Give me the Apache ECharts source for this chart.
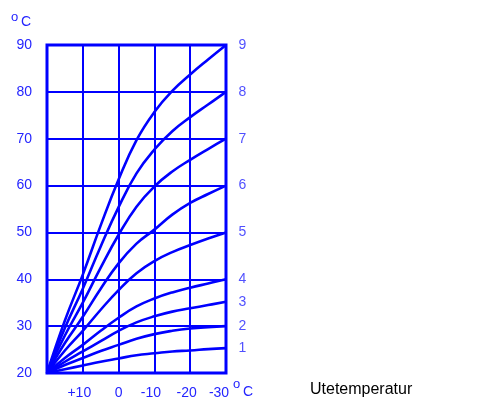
<!DOCTYPE html>
<html>
<head>
<meta charset="utf-8">
<script src="https://cdn.jsdelivr.net/npm/echarts@6/dist/echarts.min.js"></script>
<style>
html,body{margin:0;padding:0;background:#fff;}
#chart{width:480px;height:401px;}
</style>
</head>
<body>
<div id="chart"></div>
<script>
// Outdoor temperature (x) and supply temperature (y) for heating curves 1..9
const outdoorTemps = [20, 15, 10, 5, 0, -5, -10, -15, -20, -25, -30];
const curve1 = [20, 20.8, 21.6, 22.4, 23.1, 23.8, 24.2, 24.6, 24.8, 25.1, 25.3];
const curve2 = [20, 21.7, 23.2, 24.7, 26.0, 27.3, 28.3, 29.0, 29.5, 29.8, 30];
const curve3 = [20, 22.4, 24.6, 26.8, 29.0, 30.8, 32.1, 33.1, 33.8, 34.5, 35.2];
const curve4 = [20, 23.2, 26.0, 29.0, 31.8, 34.2, 35.9, 37.2, 38.2, 39.1, 40];
const curve5 = [20, 24.8, 29.0, 33.5, 37.7, 41.3, 43.9, 45.8, 47.3, 48.7, 50];
const curve6 = [20, 26.4, 32.0, 38.0, 43.4, 47.6, 50.6, 53.8, 56.3, 58.2, 60];
const curve7 = [20, 28.0, 35.0, 42.5, 49.5, 55.5, 59.8, 63.0, 65.5, 67.8, 70];
const curve8 = [20, 29.6, 38.0, 47.0, 55.4, 62.6, 67.7, 71.6, 74.6, 77.3, 80];
const curve9 = [20, 31.2, 41.0, 51.5, 61.3, 69.7, 75.7, 80.2, 83.7, 86.9, 90];
const curves = [curve1, curve2, curve3, curve4, curve5, curve6, curve7, curve8, curve9];
const curveNames = ['1', '2', '3', '4', '5', '6', '7', '8', '9'];
const yTicks = [20, 30, 40, 50, 60, 70, 80, 90];
const xTickLabels = {'10': '+10', '0': '0', '-10': '-10', '-20': '-20', '-30': '-30'};
const unitLabel = 'C';
const xTitle = 'Utetemperatur';

const BLUE = '#0000ff';
const TXT = '#2424ff';
const FONT = 'Liberation Sans, Arial, sans-serif';

const chart = echarts.init(document.getElementById('chart'), null, {renderer: 'canvas'});

const lastIdx = outdoorTemps.length - 1;

const series = curves.map((c, i) => ({
  type: 'line',
  name: curveNames[i],
  data: outdoorTemps.map((t, j) => [t, c[j]]),
  smooth: 0.45,
  showSymbol: false,
  symbol: 'none',
  lineStyle: {color: BLUE, width: 2.6},
  animation: false,
  z: 3
}));

// curve number labels at the right end of each curve
series.push({
  type: 'scatter',
  name: 'labels',
  clip: false,
  symbolSize: 1,
  itemStyle: {color: 'rgba(0,0,0,0)'},
  data: curves.map((c, i) => [outdoorTemps[lastIdx], c[lastIdx], curveNames[i]]),
  label: {
    show: true,
    position: 'right',
    distance: 12,
    formatter: p => p.data[2],
    color: TXT,
    fontSize: 14,
    fontFamily: FONT
  },
  silent: true,
  animation: false,
  z: 5
});

chart.setOption({
  animation: false,
  backgroundColor: '#fff',
  grid: {left: 47, top: 45, right: 254, bottom: 28, show: true, borderColor: BLUE, borderWidth: 3, z: 4},
  xAxis: {
    type: 'value',
    min: -30, max: 20, interval: 10,
    inverse: true,
    axisLine: {show: false},
    axisTick: {show: false},
    splitLine: {show: true, lineStyle: {color: BLUE, width: 2}},
    axisLabel: {
      color: TXT,
      fontSize: 14,
      fontFamily: FONT,
      margin: 13,
      showMaxLabel: false,
      formatter: v => {
        const s = xTickLabels[String(v)];
        if (!s) return '';
        if (v === 0) return '{z|' + s + '}';
        if (v === -30) return '{b|' + s + '}';
        return '{a|' + s + '}';
      },
      rich: {
        z: {color: TXT, fontSize: 14, fontFamily: FONT},
        a: {color: TXT, fontSize: 14, fontFamily: FONT, padding: [0, 7, 0, 0]},
        b: {color: TXT, fontSize: 14, fontFamily: FONT, padding: [0, 14, 0, 0]}
      }
    }
  },
  yAxis: {
    type: 'value',
    min: yTicks[0], max: yTicks[yTicks.length - 1], interval: 10,
    axisLine: {show: false},
    axisTick: {show: false},
    splitLine: {show: true, lineStyle: {color: BLUE, width: 2}},
    axisLabel: {
      color: TXT,
      fontSize: 14,
      fontFamily: FONT,
      margin: 15
    }
  },
  series: series,
  graphic: [
    {type: 'text', left: 11, top: 11, style: {text: 'o', fill: TXT, font: '13px "Liberation Sans", Arial, sans-serif'}},
    {type: 'text', left: 21, top: 15, style: {text: unitLabel, fill: TXT, font: '14px "Liberation Sans", Arial, sans-serif'}},
    {type: 'text', left: 233, top: 378, style: {text: 'o', fill: TXT, font: '13px "Liberation Sans", Arial, sans-serif'}},
    {type: 'text', left: 243, top: 385, style: {text: unitLabel, fill: TXT, font: '14px "Liberation Sans", Arial, sans-serif'}},
    {type: 'text', left: 310, top: 382, style: {text: xTitle, fill: '#000', font: '16px "Liberation Sans", Arial, sans-serif'}}
  ]
});
</script>
</body>
</html>
